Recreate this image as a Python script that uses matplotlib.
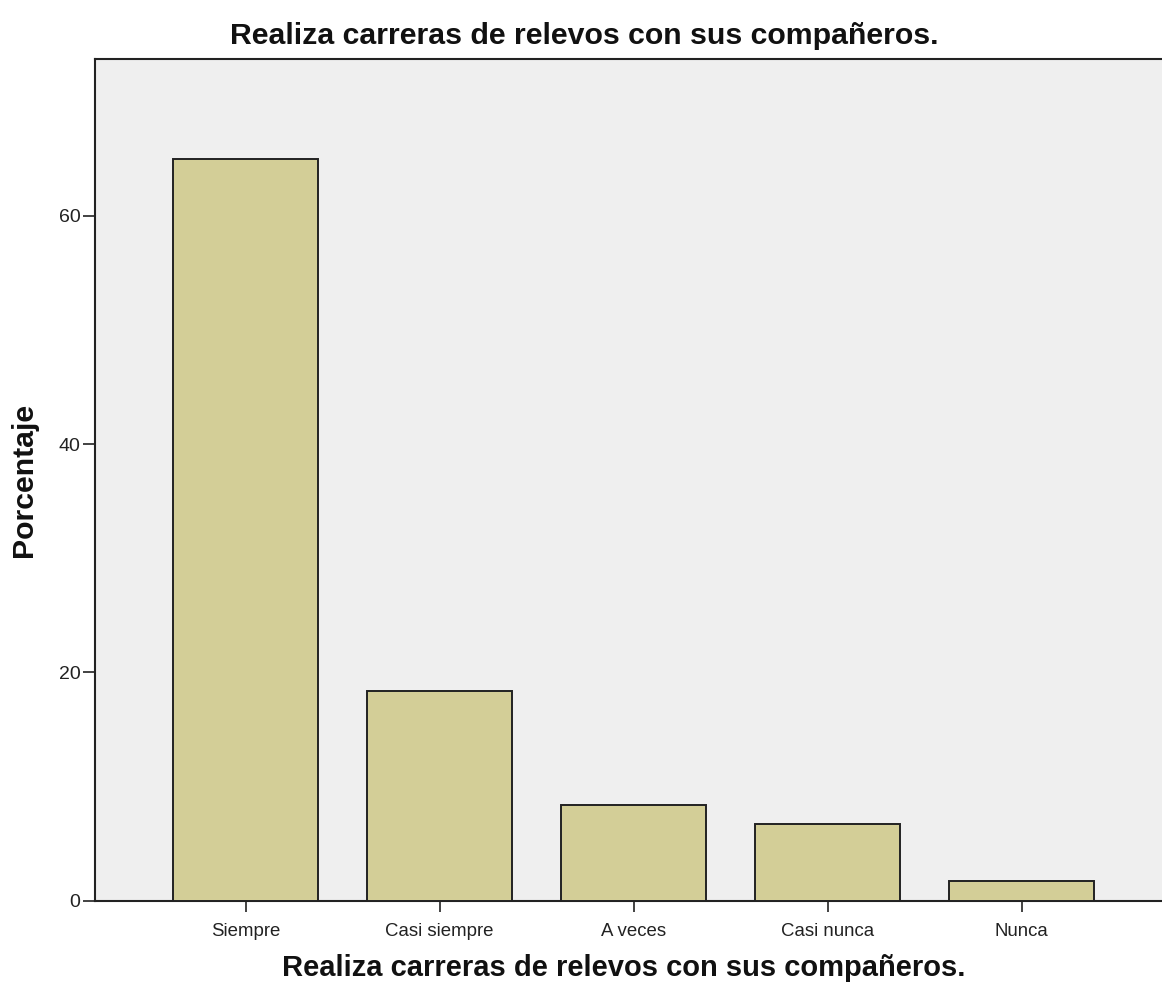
import matplotlib
matplotlib.use("Agg")
import matplotlib.pyplot as plt

categories = ["Siempre", "Casi siempre", "A veces", "Casi nunca", "Nunca"]
percentages = [65.0, 18.33, 8.33, 6.67, 1.67]
yticks = [0, 20, 40, 60]
title = "Realiza carreras de relevos con sus compañeros."
xlabel = "Realiza carreras de relevos con sus compañeros."
ylabel = "Porcentaje"

plt.rcParams['font.family'] = ['Liberation Sans', 'DejaVu Sans']

W, H = 1162, 994
fig = plt.figure(figsize=(W / 100, H / 100), dpi=100)
left, right, top, bottom = 95, 1162, 59, 900.5
ax = fig.add_axes([left / W, 1 - bottom / H, (right - left) / W, (bottom - top) / H])
ax.set_facecolor('#efefef')

x = list(range(len(categories)))
ax.bar(x, percentages, width=0.747, color='#d3ce97', edgecolor='#222222', linewidth=1.4, zorder=3)

ax.set_xlim(-0.776, 4.724)
ax.set_ylim(0, 73.75)
ax.set_xticks(x)
ax.set_xticklabels(categories, fontsize=13.4, color='#222222')
ax.set_yticks(yticks)
ax.set_yticklabels([str(v) for v in yticks], fontsize=14, color='#222222')
ax.tick_params(axis='y', length=8.5, width=1.2, pad=2, color='#222222')
ax.tick_params(axis='x', length=8, width=1.2, pad=8, color='#222222')

for s in ['left', 'bottom', 'top']:
    ax.spines[s].set_linewidth(1.5)
    ax.spines[s].set_color('#222222')
ax.spines['right'].set_visible(False)

fig.text(584 / W, 1 - 36 / H, title, fontsize=21.8, fontweight='bold', ha='center', va='center', color='#111111')
fig.text(624 / W, 1 - 968 / H, xlabel, fontsize=21, fontweight='bold', ha='center', va='center', color='#111111')
fig.text(24 / W, 1 - 480 / H, ylabel, fontsize=21.8, fontweight='bold', ha='center', va='center', rotation=90, color='#111111')

fig.savefig("out.png", dpi=100, facecolor='white')
